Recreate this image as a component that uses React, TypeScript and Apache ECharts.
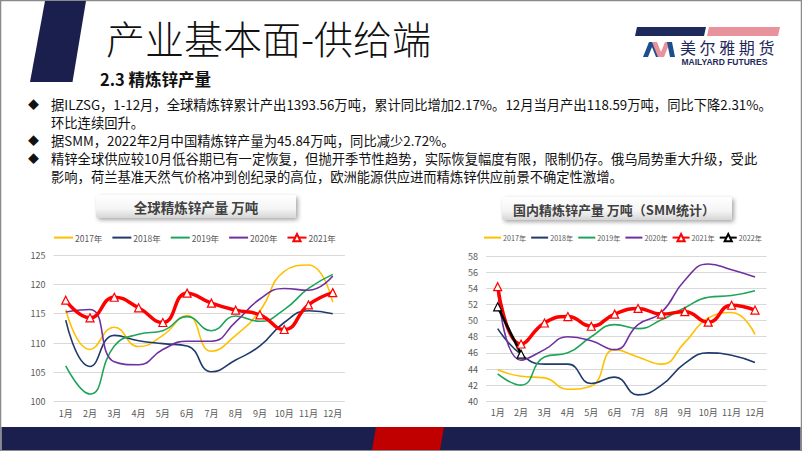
import React, { useEffect, useRef } from "react";
import * as echarts from "echarts";

const months = ["1月", "2月", "3月", "4月", "5月", "6月", "7月", "8月", "9月", "10月", "11月", "12月"];
const years = ["2017年", "2018年", "2019年", "2020年", "2021年", "2022年"];

const global2017 = [115.7, 108.9, 112.7, 109.4, 111.3, 114.7, 108.6, 111.3, 115.5, 122.2, 123.3, 117.0];
const global2018 = [113.9, 106.0, 111.3, 110.4, 109.9, 109.5, 105.1, 107.1, 109.5, 113.5, 115.5, 115.0];
const global2019 = [106.1, 101.3, 109.5, 111.5, 112.1, 114.5, 112.1, 114.6, 113.7, 115.7, 119.3, 121.7];
const global2020 = [115.3, 115.7, 106.8, 106.3, 108.9, 110.3, 110.3, 113.6, 117.5, 119.3, 119.0, 121.4];
const global2021 = [117.3, 114.3, 117.8, 116.0, 113.5, 118.5, 116.8, 115.6, 114.8, 112.3, 116.5, 118.59];

const dom2017 = [43.9, 43.1, 42.9, 41.5, 41.9, 46.4, 45.5, 44.6, 47.3, 50.3, 51.0, 48.3];
const dom2018 = [49.0, 45.8, 44.6, 44.6, 42.2, 43.0, 40.8, 42.0, 44.7, 46.0, 45.7, 44.8];
const dom2019 = [43.4, 42.0, 45.5, 46.0, 48.0, 49.5, 49.0, 50.1, 51.6, 52.9, 53.1, 53.7];
const dom2020 = [53.8, 45.1, 46.4, 48.0, 47.5, 46.4, 49.5, 51.0, 55.0, 57.0, 56.3, 55.4];
const dom2021 = [54.2, 47.1, 49.7, 50.5, 49.3, 50.8, 51.5, 50.8, 51.1, 49.8, 51.9, 51.3];
const dom2022 = [51.7, 45.84];

const titleMain = "产业基本面-供给端";
const titleSub = "2.3 精炼锌产量";
const bulletLines = [
  { text: "据ILZSG，1-12月，全球精炼锌累计产出1393.56万吨，累计同比增加2.17%。12月当月产出118.59万吨，同比下降2.31%。", bullet: true },
  { text: "环比连续回升。", bullet: false },
  { text: "据SMM，2022年2月中国精炼锌产量为45.84万吨，同比减少2.72%。", bullet: true },
  { text: "精锌全球供应较10月低谷期已有一定恢复，但抛开季节性趋势，实际恢复幅度有限，限制仍存。俄乌局势重大升级，受此", bullet: true },
  { text: "影响，荷兰基准天然气价格冲到创纪录的高位，欧洲能源供应进而精炼锌供应前景不确定性激增。", bullet: false },
];
const chartTitleLeft = "全球精炼锌产量 万吨";
const chartTitleRight = "国内精炼锌产量 万吨（SMM统计）";
const logoCn = "美尔雅期货";
const logoEn = "MAILYARD FUTURES";

const COLORS = {
  y2017: "#FFC000",
  y2018: "#1F3A6B",
  y2019: "#1FA55A",
  y2020: "#7030A0",
  y2021: "#FF0000",
  y2022: "#000000",
};
const NAVY = "#1B1F4E";
const FONT = "'Noto Sans CJK SC', 'Noto Sans', sans-serif";

function thinLine(name: string, data: number[], color: string, idx: number) {
  return {
    name,
    type: "line",
    data,
    xAxisIndex: idx,
    yAxisIndex: idx,
    smooth: 0.5,
    symbol: "none",
    lineStyle: { color, width: 1.6 },
    itemStyle: { color },
    z: 2,
  };
}

function markedLine(name: string, data: number[], color: string, idx: number, width: number) {
  return {
    name,
    type: "line",
    data,
    xAxisIndex: idx,
    yAxisIndex: idx,
    smooth: 0.5,
    symbol: "triangle",
    symbolSize: 8,
    showSymbol: true,
    lineStyle: { color, width },
    itemStyle: { color: "#ffffff", borderColor: color, borderWidth: 1.2 },
    z: 5,
  };
}

function legendData(names: string[]) {
  return names.map((n) =>
    n === "2021年" || n === "2022年" ? { name: n } : { name: n, itemStyle: { opacity: 0 } }
  );
}

export default function App() {
  const ref = useRef<HTMLDivElement>(null);

  useEffect(() => {
    if (!ref.current) return;
    const chart = echarts.init(ref.current, undefined, { renderer: "svg" });

    const graphic: any[] = [];
    // slide frame
    graphic.push({ type: "rect", shape: { x: 0.5, y: 0.5, width: 801, height: 450 }, style: { fill: "#ffffff", stroke: "#8a8a8a", lineWidth: 1.5 }, z: -10 });
    // header parallelogram
    graphic.push({ type: "polygon", shape: { points: [[45, 1], [86, 1], [72.5, 82], [30, 82]] }, style: { fill: NAVY } });
    graphic.push({ type: "text", x: 106, y: 37, style: { text: titleMain, font: `300 39px ${FONT}`, fill: "#111111", verticalAlign: "middle" } });
    graphic.push({ type: "text", x: 100, y: 79, style: { text: titleSub, font: `bold 16.5px ${FONT}`, fill: "#111111", verticalAlign: "middle" } });
    // logo
    graphic.push({ type: "polygon", shape: { points: [[637, 27], [706, 27], [704, 36], [635, 36]] }, style: { fill: "#1F2A5C" } });
    graphic.push({ type: "polygon", shape: { points: [[709, 27], [780, 27], [778, 36], [707, 36]] }, style: { fill: "#E8939B" } });
    graphic.push({ type: "polygon", shape: { points: [[643, 57], [649, 42], [655, 42], [661, 57], [656, 57], [652, 47], [648, 57]] }, style: { fill: "#1F4E8C" } });
    graphic.push({ type: "polygon", shape: { points: [[652, 42], [657, 42], [661, 52], [665, 42], [670, 42], [664, 57], [658, 57]] }, style: { fill: "#E8939B" } });
    graphic.push({ type: "polygon", shape: { points: [[667, 42], [672, 42], [675, 57], [670, 57]] }, style: { fill: "#1F4E8C" } });
    logoCn.split("").forEach((ch, i) => {
      graphic.push({ type: "text", x: 680 + i * 19.6, y: 47, style: { text: ch, font: `16px ${FONT}`, fill: "#1F2A5C", verticalAlign: "middle" } });
    });
    graphic.push({ type: "text", x: 681.5, y: 62, style: { text: logoEn, font: `bold 8.5px 'Liberation Sans', Arial, sans-serif`, fill: "#1F2A5C", verticalAlign: "middle" } });
    // bullets
    const lineYs = [104, 122, 140, 158, 176];
    bulletLines.forEach((b, i) => {
      if (b.bullet) {
        graphic.push({ type: "text", x: 28, y: lineYs[i], style: { text: "◆", font: `11px ${FONT}`, fill: "#111111", verticalAlign: "middle", lineHeight: 14 } });
      }
      graphic.push({ type: "text", x: 51, y: lineYs[i], style: { text: b.text, font: `13.3px ${FONT}`, fill: "#111111", verticalAlign: "middle", lineHeight: 16 } });
    });
    // chart title boxes
    const boxStyle = (x: number, y: number, w: number, h: number) => ({
      type: "rect",
      shape: { x, y, width: w, height: h, r: 2 },
      style: {
        fill: new echarts.graphic.LinearGradient(0, 0, 0, 1, [
          { offset: 0, color: "#ffffff" },
          { offset: 0.6, color: "#f4f4f4" },
          { offset: 1, color: "#d6d6d6" },
        ]),
        shadowBlur: 4,
        shadowOffsetX: 2,
        shadowOffsetY: 2,
        shadowColor: "rgba(0,0,0,0.35)",
      },
    });
    graphic.push(boxStyle(96, 195, 200, 23));
    graphic.push({ type: "text", x: 196, y: 207, style: { text: chartTitleLeft, font: `bold 13.5px ${FONT}`, fill: "#404040", align: "center", verticalAlign: "middle" } });
    graphic.push(boxStyle(502, 197, 230, 23));
    graphic.push({ type: "text", x: 614, y: 209, style: { text: chartTitleRight, font: `bold 13px ${FONT}`, fill: "#404040", align: "center", verticalAlign: "middle" } });
    // footer
    graphic.push({ type: "rect", shape: { x: 1.5, y: 427, width: 799, height: 23 }, style: { fill: NAVY } });
    graphic.push({ type: "polygon", shape: { points: [[376, 427], [444, 427], [440, 450], [372, 450]] }, style: { fill: "#C00000" } });

    const axisLabel = { color: "#595959", fontSize: 9, fontFamily: FONT };

    const option: any = {
      animation: false,
      backgroundColor: "#ffffff",
      graphic,
      grid: [
        { left: 53.6, top: 255, width: 291.3, height: 146.7 },
        { left: 486, top: 256, width: 280.7, height: 145.3 },
      ],
      legend: [
        {
          data: legendData(years.slice(0, 5)),
          left: 53,
          top: 233,
          width: 330,
          itemWidth: 19,
          itemHeight: 9,
          itemGap: 9,
          textStyle: { color: "#595959", fontSize: 8.5, fontFamily: FONT, padding: [0, 0, 0, -3] },
          padding: 0,
        },
        {
          data: legendData(years),
          left: 483,
          top: 233,
          width: 318,
          itemWidth: 17,
          itemHeight: 9,
          itemGap: 4,
          textStyle: { color: "#595959", fontSize: 7.2, fontFamily: FONT, padding: [0, 0, 0, -3] },
          padding: 0,
        },
      ],
      xAxis: [0, 1].map((i) => ({
        type: "category",
        gridIndex: i,
        data: months,
        boundaryGap: true,
        axisLine: { show: false },
        axisTick: { show: false },
        axisLabel: { ...axisLabel, margin: 7, interval: 0 },
      })),
      yAxis: [
        {
          type: "value",
          gridIndex: 0,
          min: 100,
          max: 125,
          interval: 5,
          axisLine: { show: false },
          axisTick: { show: false },
          axisLabel: { ...axisLabel, margin: 8 },
          splitLine: { lineStyle: { color: "#D9D9D9", width: 1 } },
        },
        {
          type: "value",
          gridIndex: 1,
          min: 40,
          max: 58,
          interval: 2,
          axisLine: { show: false },
          axisTick: { show: false },
          axisLabel: { ...axisLabel, margin: 8 },
          splitLine: { lineStyle: { color: "#D9D9D9", width: 1 } },
        },
      ],
      series: [
        thinLine(years[0], global2017, COLORS.y2017, 0),
        thinLine(years[1], global2018, COLORS.y2018, 0),
        thinLine(years[2], global2019, COLORS.y2019, 0),
        thinLine(years[3], global2020, COLORS.y2020, 0),
        markedLine(years[4], global2021, COLORS.y2021, 0, 3.5),
        thinLine(years[0], dom2017, COLORS.y2017, 1),
        thinLine(years[1], dom2018, COLORS.y2018, 1),
        thinLine(years[2], dom2019, COLORS.y2019, 1),
        thinLine(years[3], dom2020, COLORS.y2020, 1),
        markedLine(years[4], dom2021, COLORS.y2021, 1, 3.5),
        markedLine(years[5], dom2022, COLORS.y2022, 1, 2.5),
      ],
    };
    chart.setOption(option);
    return () => chart.dispose();
  }, []);

  return (
    <div
      ref={ref}
      style={{ position: "fixed", left: 0, top: 0, width: 802, height: 451, background: "#fff" }}
    />
  );
}
